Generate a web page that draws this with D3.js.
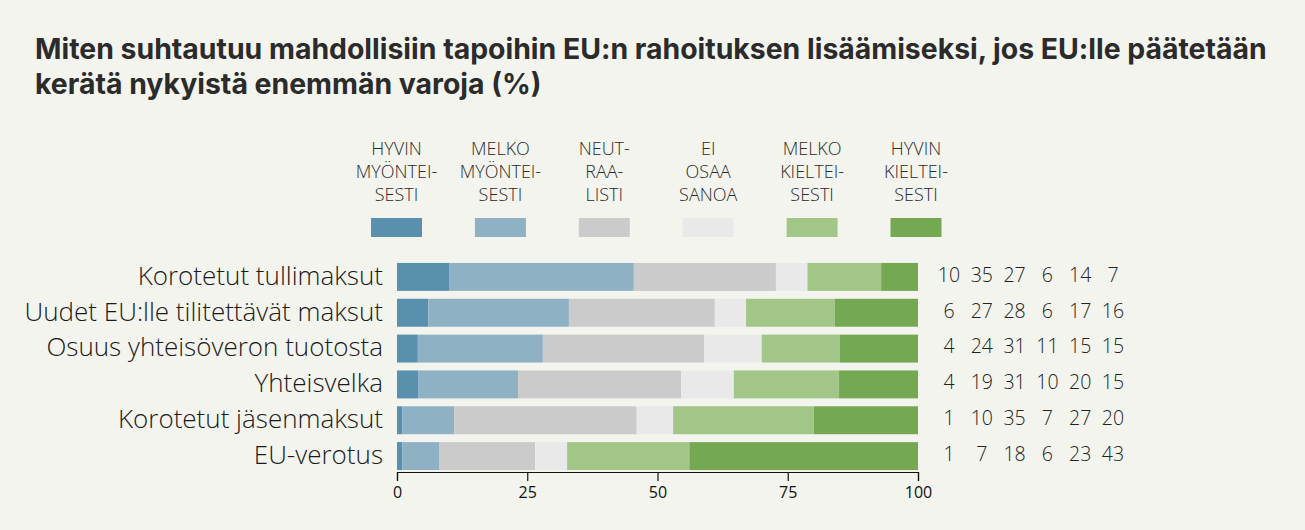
<!DOCTYPE html>
<html>
<head>
<meta charset="utf-8">
<script src="https://cdn.jsdelivr.net/npm/d3@7"></script>
<style>
  body { margin: 0; background: #f4f4ef; }
  svg { display: block; }
</style>
</head>
<body>
<div id="chart"></div>
<script>
// categories, top to bottom
var categories = ["Korotetut tullimaksut", "Uudet EU:lle tilitettävät maksut", "Osuus yhteisöveron tuotosta",
                  "Yhteisvelka", "Korotetut jäsenmaksut", "EU-verotus"];
var seriesKeys = ["hyvinMyon", "melkoMyon", "neutraali", "eos", "melkoKielt", "hyvinKielt"];
var seriesLabels = [["HYVIN", "MYÖNTEI-", "SESTI"], ["MELKO", "MYÖNTEI-", "SESTI"], ["NEUT-", "RAA-", "LISTI"],
                    ["EI", "OSAA", "SANOA"], ["MELKO", "KIELTEI-", "SESTI"], ["HYVIN", "KIELTEI-", "SESTI"]];
var colors = ["#5890ae", "#8fb1c4", "#cbcbcb", "#e9e9e9", "#a2c588", "#75a852"];

// values per series (%) in category order
var hyvinMyon  = [10, 6, 4, 4, 1, 1];
var melkoMyon  = [35, 27, 24, 19, 10, 7];
var neutraali  = [27, 28, 31, 31, 35, 18];
var eos        = [6, 6, 11, 10, 7, 6];
var melkoKielt = [14, 17, 15, 20, 27, 23];
var hyvinKielt = [7, 16, 15, 15, 20, 43];
var xTicks = [0, 25, 50, 75, 100];

var table = categories.map(function(c, i) {
  return {cat: c, hyvinMyon: hyvinMyon[i], melkoMyon: melkoMyon[i], neutraali: neutraali[i],
          eos: eos[i], melkoKielt: melkoKielt[i], hyvinKielt: hyvinKielt[i]};
});

var w = 1305, h = 530;
var left = 397, right = 918;

var svg = d3.select("#chart").append("svg").attr("width", w).attr("height", h);

// title
var title = svg.append("text")
  .style("font-family", "Inter, 'Open Sans', sans-serif")
  .style("font-weight", 700)
  .style("font-size", "28.4px")
  .style("fill", "#2b2b2b");
title.append("tspan").attr("x", 35).attr("y", 59)
  .text("Miten suhtautuu mahdollisiin tapoihin EU:n rahoituksen lisäämiseksi, jos EU:lle päätetään");
title.append("tspan").attr("x", 35).attr("y", 94)
  .text("kerätä nykyistä enemmän varoja (%)");

var xScale = d3.scaleLinear().domain([0, 1]).range([left, right]);
var yScale = d3.scaleBand().domain(categories).range([259, 474]).paddingInner(0.22).paddingOuter(0.11);

// legend
var legendX = d3.scalePoint().domain(seriesKeys).range([396.5, 916]);
var legend = svg.append("g").selectAll("g")
  .data(seriesKeys).enter().append("g")
  .attr("transform", function(d) { return "translate(" + legendX(d) + ",0)"; });
legend.append("rect")
  .attr("x", -25.5).attr("y", 218).attr("width", 51).attr("height", 19)
  .attr("fill", function(d, i) { return colors[i]; });
legend.each(function(d, i) {
  var g = d3.select(this);
  seriesLabels[i].forEach(function(line, j) {
    g.append("text")
      .attr("y", 155 + j * 23)
      .attr("text-anchor", "middle")
      .style("font-family", "'Open Sans', sans-serif")
      .style("font-weight", 300)
      .style("font-size", "18px")
      .style("fill", "#2a2a2a")
      .text(line);
  });
});

// stacked bars, normalised to 100
var stack = d3.stack().keys(seriesKeys).offset(d3.stackOffsetExpand);
var layers = stack(table);

svg.append("g").selectAll("g")
  .data(layers).enter().append("g")
  .attr("fill", function(d, i) { return colors[i]; })
  .selectAll("rect")
  .data(function(d) { return d; })
  .enter().append("rect")
  .attr("x", function(d) { return xScale(d[0]); })
  .attr("y", function(d) { return yScale(d.data.cat); })
  .attr("width", function(d) { return xScale(d[1]) - xScale(d[0]); })
  .attr("height", yScale.bandwidth());

// category labels
svg.append("g").selectAll("text")
  .data(categories).enter().append("text")
  .attr("x", 383)
  .attr("y", function(d) { return yScale(d) + yScale.bandwidth() / 2; })
  .attr("dy", "0.3em")
  .attr("text-anchor", "end")
  .style("font-family", "'Open Sans', sans-serif")
  .style("font-weight", 300)
  .style("font-size", "26px")
  .style("fill", "#1a1a1a")
  .text(function(d) { return d; });

// value columns
var colX = d3.scalePoint().domain(seriesKeys).range([949, 1113]);
seriesKeys.forEach(function(k) {
  svg.append("g").selectAll("text")
    .data(table).enter().append("text")
    .attr("x", colX(k))
    .attr("y", function(d) { return yScale(d.cat) + yScale.bandwidth() / 2; })
    .attr("dy", "0.25em")
    .attr("text-anchor", "middle")
    .style("font-family", "'Open Sans', sans-serif")
    .style("font-weight", 300)
    .style("font-size", "19.5px")
    .style("fill", "#222")
    .text(function(d) { return d[k]; });
});

// x axis
var xAxisScale = d3.scaleLinear().domain([0, 100]).range([left, right]);
var xAxis = d3.axisBottom(xAxisScale).tickValues(xTicks).tickSize(9).tickPadding(6);
var axisG = svg.append("g")
  .attr("transform", "translate(0,472)")
  .call(xAxis);
axisG.select(".domain").attr("stroke", "#111").attr("stroke-width", 1.2);
axisG.selectAll(".tick line").attr("stroke", "#111").attr("stroke-width", 1.2);
axisG.selectAll("text")
  .style("font-family", "'Open Sans', sans-serif")
  .style("font-size", "16px")
  .style("fill", "#111");
</script>
</body>
</html>
